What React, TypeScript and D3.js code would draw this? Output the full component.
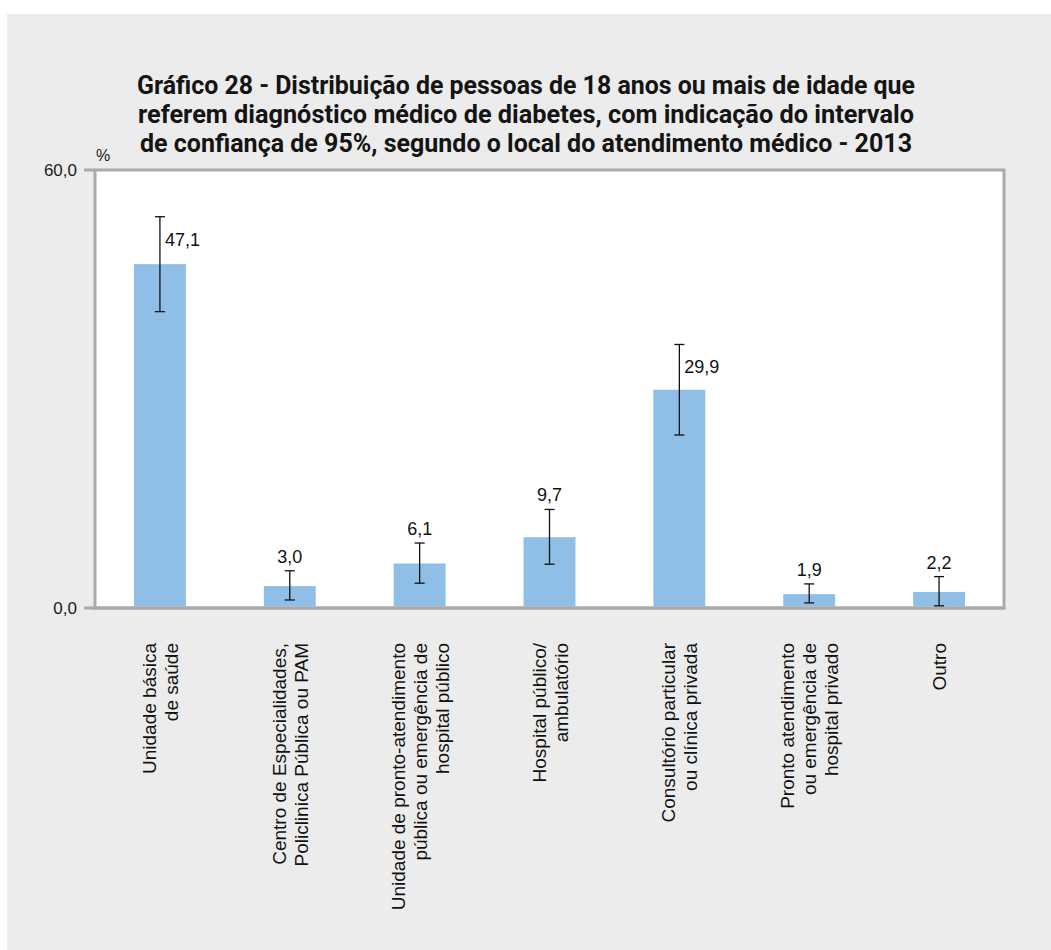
import React, { useEffect, useRef } from 'react';
import * as d3 from 'd3';

const titleLines = [
  'Gráfico 28 - Distribuição de pessoas de 18 anos ou mais de idade que',
  'referem diagnóstico médico de diabetes, com indicação do intervalo',
  'de confiança de 95%, segundo o local do atendimento médico - 2013',
];

const categories: string[][] = [
  ['Unidade básica', 'de saúde'],
  ['Centro de Especialidades,', 'Policlinica Pública ou PAM'],
  ['Unidade de pronto-atendimento', 'pública ou emergência de', 'hospital público'],
  ['Hospital público/', 'ambulatório'],
  ['Consultório particular', 'ou clínica privada'],
  ['Pronto atendimento', 'ou emergência de', 'hospital privado'],
  ['Outro'],
];

const values = [47.1, 3.0, 6.1, 9.7, 29.9, 1.9, 2.2];
const lower = [40.6, 1.1, 3.4, 6.0, 23.7, 0.7, 0.3];
const upper = [53.6, 5.1, 8.9, 13.5, 36.1, 3.3, 4.3];
const yTicks = [0, 60];

const W = 1051;
const H = 950;

const fmt = (v: number) => d3.format('.1f')(v).replace('.', ',');

const App: React.FC = () => {
  const svgRef = useRef<SVGSVGElement>(null);

  useEffect(() => {
    if (!svgRef.current) return;
    const svg = d3.select(svgRef.current);
    svg.selectAll('*').remove();

    const font = '"Liberation Sans", Arial, sans-serif';

    // gray panel
    svg.append('rect')
      .attr('x', 7).attr('y', 14)
      .attr('width', W - 7).attr('height', H - 14)
      .attr('fill', '#ececec');

    // title, squeezed to match the condensed face
    const titleWidths = [778, 776, 772];
    titleLines.forEach((line, i) => {
      svg.append('text')
        .attr('x', 526)
        .attr('y', 94 + i * 29)
        .attr('text-anchor', 'middle')
        .attr('font-family', 'Roboto, "Liberation Sans", sans-serif')
        .attr('font-weight', 700)
        .attr('font-size', 26)
        .attr('fill', '#141414')
        .attr('textLength', titleWidths[i])
        .attr('lengthAdjust', 'spacingAndGlyphs')
        .text(line);
    });

    const left = 95, right = 1004, top = 170, bottom = 608;

    const x = d3.scaleBand<number>()
      .domain(d3.range(categories.length))
      .range([left, right])
      .paddingInner(0.6)
      .paddingOuter(0.3);

    const y = d3.scaleLinear().domain([0, 60]).range([bottom, top]);

    // plot background + frame
    svg.append('rect')
      .attr('x', left).attr('y', top)
      .attr('width', right - left).attr('height', bottom - top)
      .attr('fill', '#ffffff')
      .attr('stroke', '#aaaaaa')
      .attr('stroke-width', 3);

    // y ticks
    const ya = svg.append('g');
    yTicks.forEach(t => {
      ya.append('line')
        .attr('x1', 84).attr('x2', left)
        .attr('y1', y(t)).attr('y2', y(t))
        .attr('stroke', '#aaaaaa').attr('stroke-width', 3);
      ya.append('text')
        .attr('x', 77).attr('y', y(t) + 6)
        .attr('text-anchor', 'end')
        .attr('font-family', font).attr('font-size', 17)
        .attr('fill', '#1a1a1a')
        .text(fmt(t));
    });
    svg.append('text')
      .attr('x', 96).attr('y', 161)
      .attr('font-family', font).attr('font-size', 16)
      .attr('fill', '#1a1a1a')
      .text('%');

    // bars
    svg.selectAll('rect.bar')
      .data(values)
      .enter()
      .append('rect')
      .attr('class', 'bar')
      .attr('x', (_, i) => x(i) || 0)
      .attr('y', d => y(d))
      .attr('width', x.bandwidth())
      .attr('height', d => bottom - 1.5 - y(d))
      .attr('fill', '#8fbfe7');

    // redraw bottom edge of frame over bars
    svg.append('line')
      .attr('x1', left - 1.5).attr('x2', right + 1.5)
      .attr('y1', bottom).attr('y2', bottom)
      .attr('stroke', '#aaaaaa').attr('stroke-width', 3);

    // error bars
    const eb = svg.append('g').attr('stroke', '#111').attr('stroke-width', 1.3);
    values.forEach((_, i) => {
      const cx = (x(i) || 0) + x.bandwidth() / 2;
      eb.append('line').attr('x1', cx).attr('x2', cx).attr('y1', y(lower[i])).attr('y2', y(upper[i]));
      eb.append('line').attr('x1', cx - 5).attr('x2', cx + 5).attr('y1', y(lower[i])).attr('y2', y(lower[i]));
      eb.append('line').attr('x1', cx - 5).attr('x2', cx + 5).attr('y1', y(upper[i])).attr('y2', y(upper[i]));
    });

    // value labels
    values.forEach((v, i) => {
      const cx = (x(i) || 0) + x.bandwidth() / 2;
      const beside = v > 20;
      svg.append('text')
        .attr('x', beside ? cx + 5 : cx)
        .attr('y', beside ? y(upper[i]) + 29 : y(upper[i]) - 8)
        .attr('text-anchor', beside ? 'start' : 'middle')
        .attr('font-family', font).attr('font-size', 18)
        .attr('fill', '#111')
        .text(fmt(v));
    });

    // category labels, rotated
    categories.forEach((lines, i) => {
      const cx = (x(i) || 0) + x.bandwidth() / 2;
      const g = svg.append('g').attr('transform', `translate(${cx},643) rotate(-90)`);
      const lh = 22;
      lines.forEach((line, j) => {
        g.append('text')
          .attr('x', 0)
          .attr('y', (j - (lines.length - 1) / 2) * lh + 7)
          .attr('text-anchor', 'end')
          .attr('font-family', font).attr('font-size', 19)
          .attr('fill', '#111')
          .text(line);
      });
    });
  }, []);

  return (
    <svg
      ref={svgRef}
      width={W}
      height={H}
      style={{ position: 'absolute', left: 0, top: 0, background: '#ffffff' }}
    />
  );
};

export default App;
